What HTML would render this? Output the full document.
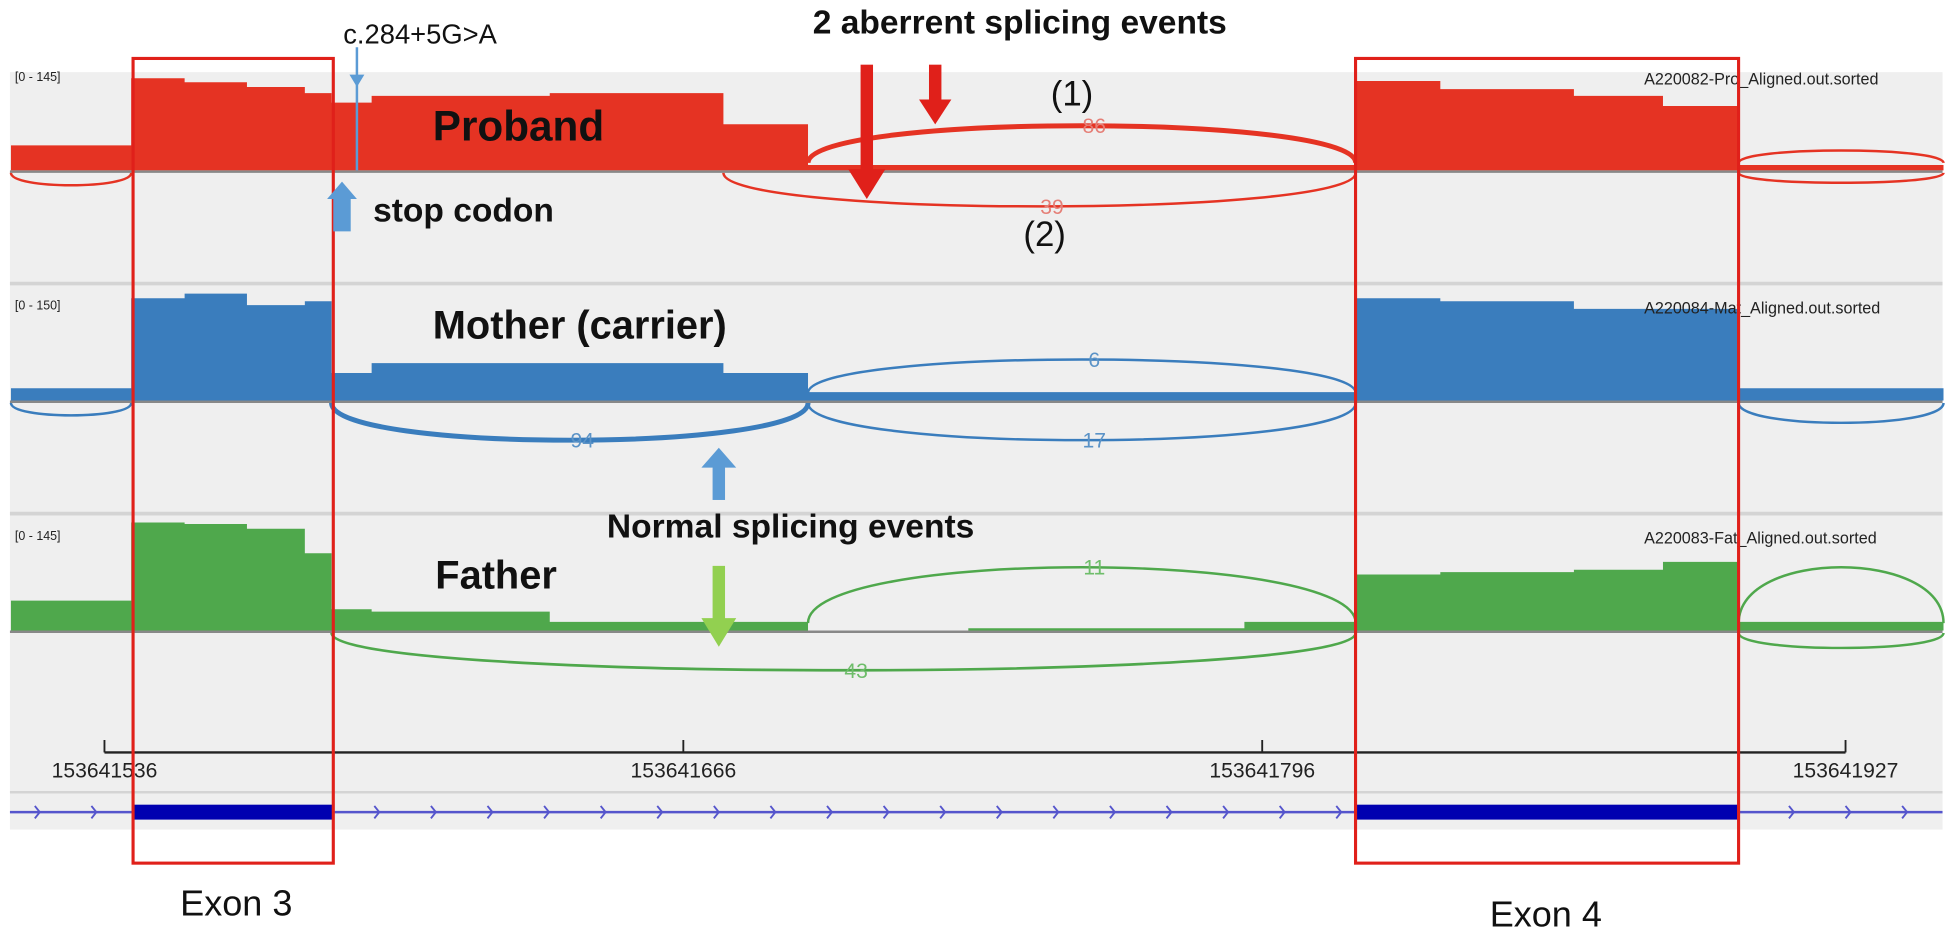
<!DOCTYPE html>
<html><head><meta charset="utf-8"><style>
html,body{margin:0;padding:0;background:#fff;overflow:hidden;}
svg{display:block;font-family:"Liberation Sans",sans-serif;}
.bold{font-weight:bold;fill:#111;}
</style></head><body>
<svg id="chart" width="1950" height="939" viewBox="0 0 1568 755" preserveAspectRatio="none">
<rect x="8" y="58" width="1554" height="609" fill="#efefef"/>
<line x1="8" y1="228" x2="1562" y2="228" stroke="#d4d4d4" stroke-width="3"/>
<line x1="8" y1="413" x2="1562" y2="413" stroke="#d4d4d4" stroke-width="3"/>
<line x1="8" y1="637" x2="1562" y2="637" stroke="#d4d4d4" stroke-width="2"/>
<g id="tracks"></g>
<g id="axis"></g>
<g id="gene"></g>
<text x="12" y="65" font-size="10" fill="#222">[0 - 145]</text>
<text x="12" y="249" font-size="10" fill="#222">[0 - 150]</text>
<text x="12" y="434" font-size="10" fill="#222">[0 - 145]</text>
<svg x="1300" y="50" width="262" height="420" overflow="hidden">
<text x="22" y="18" font-size="13" fill="#222">A220082-Pro_Aligned.out.sorted</text>
<text x="22" y="202" font-size="13" fill="#222">A220084-Mat_Aligned.out.sorted</text>
<text x="22" y="387" font-size="13" fill="#222">A220083-Fat_Aligned.out.sorted</text>
</svg>
<rect x="107" y="47" width="161" height="647" fill="none" stroke="#e0201a" stroke-width="2.5"/>
<rect x="1090" y="47" width="308" height="647" fill="none" stroke="#e0201a" stroke-width="2.5"/>
<text x="190" y="736" font-size="29" text-anchor="middle" fill="#111">Exon 3</text>
<text x="1243" y="745" font-size="29" text-anchor="middle" fill="#111">Exon 4</text>
<text x="276" y="35" font-size="22" fill="#111">c.284+5G&gt;A</text>
<line x1="287" y1="38" x2="287" y2="137" stroke="#5b9bd5" stroke-width="2"/>
<polygon points="281,60 293,60 287,70" fill="#5b9bd5"/>
<text x="820" y="27" font-size="27" text-anchor="middle" class="bold">2 aberrent splicing events</text>
<text x="862" y="85" font-size="28" text-anchor="middle" fill="#111">(1)</text>
<text x="840" y="198" font-size="28" text-anchor="middle" fill="#111">(2)</text>
<text x="348" y="113" font-size="34" class="bold">Proband</text>
<text x="300" y="178" font-size="27" class="bold">stop codon</text>
<polygon points="268,160 282,160 282,186 268,186" fill="#5b9bd5"/>
<polygon points="263,160 287,160 275,146" fill="#5b9bd5"/>
<rect x="692" y="52" width="10" height="86" fill="#e0201a"/>
<polygon points="682,136 712,136 697,160" fill="#e0201a"/>
<rect x="747" y="52" width="10" height="30" fill="#e0201a"/>
<polygon points="739,80 765,80 752,100" fill="#e0201a"/>
<text x="348" y="272" font-size="32" class="bold">Mother (carrier)</text>
<text x="488" y="432" font-size="27" class="bold">Normal splicing events</text>
<rect x="573" y="374" width="10" height="28" fill="#5b9bd5"/>
<polygon points="564,376 592,376 578,360" fill="#5b9bd5"/>
<text x="350" y="473" font-size="32" class="bold">Father</text>
<rect x="573" y="455" width="10" height="44" fill="#92d050"/>
<polygon points="564,497 592,497 578,520" fill="#92d050"/>
</svg>
<script>
const startPos = 153641536;
const tickLabels = [153641536, 153641666, 153641796, 153641927];
// coverage segments: start offsets (bp from startPos)
const segStarts = [-21, 6, 18, 32, 45, 51, 60, 100, 139, 158, 194, 256, 281, 300, 330, 350, 367];
const segEnd = 413;
const probandCov = [37, 136, 130, 123, 114, 100, 110, 114, 68, 8, 8, 8, 132, 120, 110, 95, 8];
const motherCov  = [16, 134, 140, 125, 130, 36, 49, 49, 36, 11, 11, 11, 134, 130, 120, 120, 16];
const fatherCov  = [38, 137, 135, 129, 98, 27, 24, 11, 11, 0, 3, 11, 71, 74, 77, 87, 11];
// junctions: start, end, count, side(1 above,-1 below), depth(px)
const probandJ = [[158, 281, 86, 1, 30], [139, 281, 39, -1, 27], [-21, 6, 12, -1, 10], [367, 413, 12, -1, 8], [367, 413, 20, 1, 10]];
const motherJ  = [[158, 281, 6, 1, 27], [51, 158, 94, -1, 30], [158, 281, 17, -1, 30], [-21, 6, 8, -1, 10], [367, 413, 9, -1, 16]];
const fatherJ  = [[158, 281, 11, 1, 45], [51, 281, 43, -1, 30], [367, 413, 10, 1, 45], [367, 413, 8, -1, 12]];

const NS = "http://www.w3.org/2000/svg";
const xS = off => 84 + off * (1400 / 391);
const tracks = [
  {name:'proband', cov:probandCov, j:probandJ, base:137, max:145, h:79, color:'#e53323', lab:'#e57f77'},
  {name:'mother', cov:motherCov, j:motherJ, base:322, max:150, h:92, color:'#3a7dbd', lab:'#5b93c7'},
  {name:'father', cov:fatherCov, j:fatherJ, base:507, max:145, h:92, color:'#4fa84c', lab:'#6ebd6a'}
];
const tg = document.getElementById('tracks');
tracks.forEach(t => {
  const yS = v => t.base - Math.min(v, t.max) / t.max * t.h;
  let d = 'M' + xS(segStarts[0]) + ',' + t.base;
  segStarts.forEach((s, i) => {
    const e = i + 1 < segStarts.length ? segStarts[i + 1] : segEnd;
    d += 'L' + xS(s) + ',' + yS(t.cov[i]) + 'L' + xS(e) + ',' + yS(t.cov[i]);
  });
  d += 'L' + xS(segEnd) + ',' + t.base + 'Z';
  const p = document.createElementNS(NS, 'path');
  p.setAttribute('d', d); p.setAttribute('fill', t.color);
  
  
  tg.appendChild(p);
  const bl = document.createElementNS(NS, 'line');
  bl.setAttribute('x1', 8); bl.setAttribute('x2', 1562); bl.setAttribute('y1', t.base + 1); bl.setAttribute('y2', t.base + 1);
  bl.setAttribute('stroke', '#888'); bl.setAttribute('stroke-width', 2);
  
  
  tg.appendChild(bl);
  t.j.forEach(j => {
    const x1 = xS(j[0]), x2 = xS(j[1]), yb = t.base - (j[3] > 0 ? 6 : -2);
    const cy = yb - j[3] * j[4] * 1.33;
    const a = document.createElementNS(NS, 'path');
    a.setAttribute('d', `M${x1},${yb} C${x1},${cy} ${x2},${cy} ${x2},${yb}`);
    a.setAttribute('fill', 'none'); a.setAttribute('stroke', t.color);
    a.setAttribute('stroke-width', Math.max(2, Math.min(4, j[2] / 20)));
    
    
    tg.appendChild(a);
    if (j[0] > 0 && j[1] < 370) {
      const tx = document.createElementNS(NS, 'text');
      tx.setAttribute('x', (x1 + x2) / 2 + 10); tx.setAttribute('y', yb - j[3] * j[4] + 6);
      tx.setAttribute('font-size', 17); tx.setAttribute('text-anchor', 'middle');
      tx.setAttribute('fill', t.lab);
      
      
      tx.textContent = j[2];
      tg.appendChild(tx);
    }
  });
});
const ag = document.getElementById('axis');
const ax = document.createElementNS(NS, 'line');
ax.setAttribute('x1', xS(0)); ax.setAttribute('x2', xS(tickLabels[3] - startPos));
ax.setAttribute('y1', 605); ax.setAttribute('y2', 605);
ax.setAttribute('stroke', '#222'); ax.setAttribute('stroke-width', 2);


ag.appendChild(ax);
tickLabels.forEach(v => {
  const x = xS(v - startPos);
  const tk = document.createElementNS(NS, 'line');
  tk.setAttribute('x1', x); tk.setAttribute('x2', x); tk.setAttribute('y1', 595); tk.setAttribute('y2', 605);
  tk.setAttribute('stroke', '#222'); tk.setAttribute('stroke-width', 1.5);
  
  
  ag.appendChild(tk);
  const tx = document.createElementNS(NS, 'text');
  tx.setAttribute('x', x); tx.setAttribute('y', 625); tx.setAttribute('font-size', 17);
  tx.setAttribute('text-anchor', 'middle'); tx.setAttribute('fill', '#222');
  
  
  tx.textContent = v;
  ag.appendChild(tx);
});
const gg = document.getElementById('gene');
const gl = document.createElementNS(NS, 'line');
gl.setAttribute('x1', 8); gl.setAttribute('x2', 1562); gl.setAttribute('y1', 653); gl.setAttribute('y2', 653);
gl.setAttribute('stroke', '#5555cc'); gl.setAttribute('stroke-width', 2);


gg.appendChild(gl);
for (let x = 28; x < 1562; x += 45.5) {
  const c = document.createElementNS(NS, 'path');
  c.setAttribute('d', `M${x},648 L${x + 4},653 L${x},658`);
  c.setAttribute('fill', 'none'); c.setAttribute('stroke', '#5555cc'); c.setAttribute('stroke-width', 1.5);
  gg.appendChild(c);
}
[[107, 268], [1090, 1398]].forEach((e, i) => {
  const r = document.createElementNS(NS, 'rect');
  r.setAttribute('x', e[0]); r.setAttribute('y', 647); r.setAttribute('width', e[1] - e[0]); r.setAttribute('height', 12);
  r.setAttribute('fill', '#0000b0');
  
  
  gg.appendChild(r);
});
</script>
</body></html>
